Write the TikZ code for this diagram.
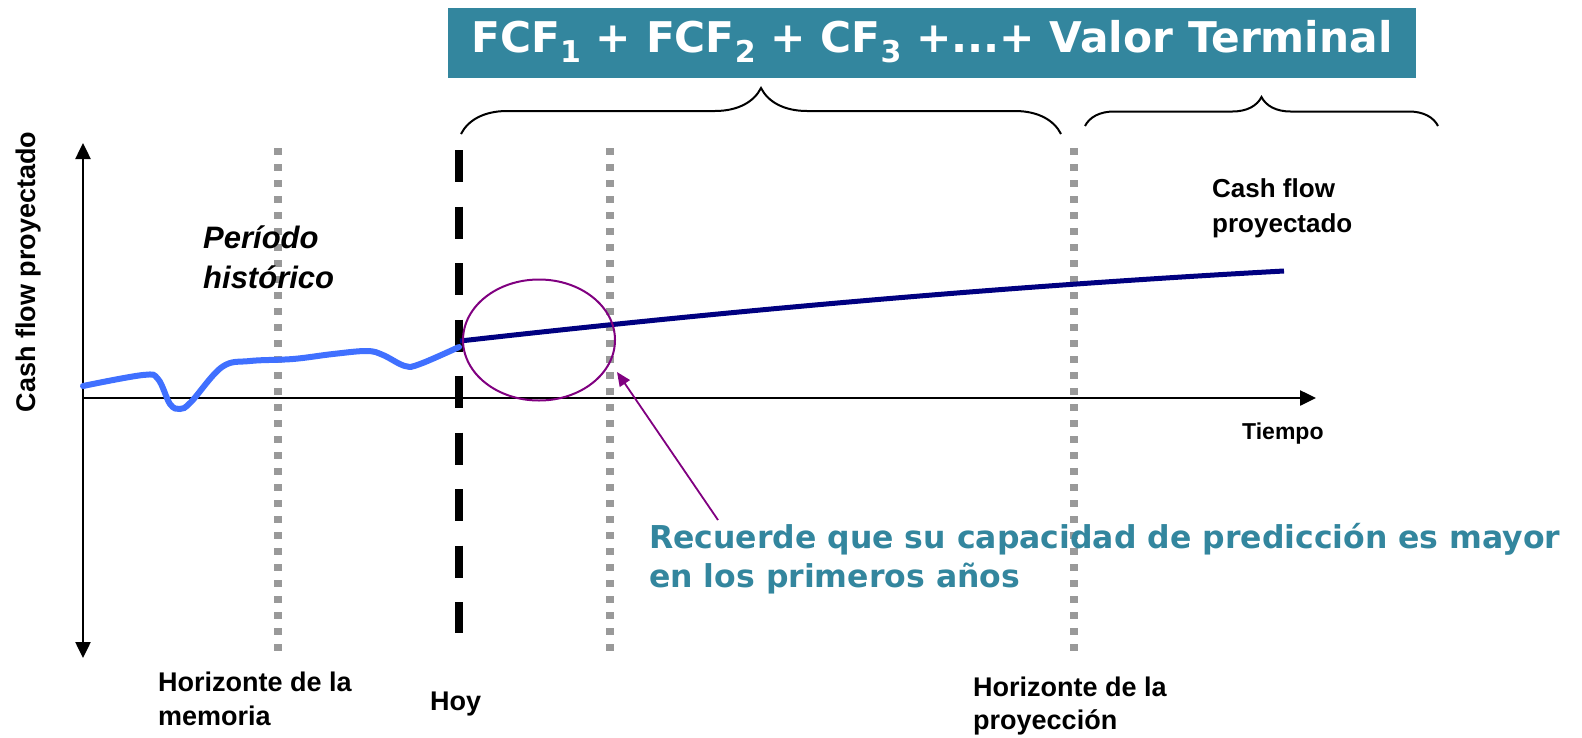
\documentclass[tikz,border=0pt]{standalone}
\usepackage{fontspec}
\setmainfont{Liberation Sans}
\newfontfamily\verdana{DejaVu Sans}
\usetikzlibrary{arrows.meta,decorations.pathreplacing,shapes.geometric}
\definecolor{azulverde}{RGB}{51,134,158}
\definecolor{azulclaro}{RGB}{64,112,255}
\definecolor{azulmarino}{RGB}{0,0,128}
\definecolor{morado}{RGB}{128,0,128}
\definecolor{gris}{RGB}{153,153,153}
\newcommand{\bajo}[1]{\raisebox{-10pt}{\fontsize{30}{30}\selectfont #1}}

\begin{document}
\begin{tikzpicture}[x=1pt,y=-1pt,
  etiqueta/.style={font=\bfseries\fontsize{27}{34}\selectfont, inner sep=0pt, align=left, anchor=base west},
  punteada/.style={gris, line width=8pt, dash pattern=on 7pt off 9pt},
  llave/.style={decorate, line width=2pt},
  eje/.style={line width=2.5pt, -{Triangle[width=15pt,length=16pt]}}]
\useasboundingbox (0,0) rectangle (1582,737);

\node[fill=azulverde, text=white, minimum width=968pt, minimum height=70pt, inner sep=0pt,
    text height=30pt, text depth=12pt,
    font=\verdana\bfseries\fontsize{42.3}{42}\selectfont] (titulo) at (932,43)
    {FCF\bajo{1} + FCF\bajo{2} + CF\bajo{3} +...+ Valor Terminal};

\draw[llave, decoration={brace, amplitude=46pt}] (461,134) -- (1061,134);
\draw[llave, decoration={brace, amplitude=29pt}] (1085,126) -- (1438,126);

\foreach \x in {278,610,1074}
  \draw[punteada] (\x,148) -- (\x,656);
\draw[line width=8pt, dash pattern=on 32pt off 24.5pt] (459,150) -- (459,633);

\coordinate (origen) at (83,398);
\coordinate (arriba) at (83,143);
\coordinate (abajo) at (83,658);
\coordinate (derecha) at (1316,398);
\draw[eje] (origen) -- (arriba);
\draw[eje] (origen) -- (abajo);
\draw[eje] (origen) -- (derecha);

\draw[azulclaro, line width=6pt, line cap=round] plot[smooth, tension=0.6] coordinates
  {(83,386) (143,375) (158,379) (170,404) (180,409) (191,402) (222,367) (250,361)
   (293,359) (333,354) (367,351) (383,355) (405,366) (420,364) (459,347)};
\coordinate (hoy) at (460,341);
\coordinate (fin) at (1284,271);
\draw[azulmarino, line width=5pt] (hoy) .. controls (735,310) and (1009,286) .. (fin);

\node[ellipse, draw=morado, line width=2pt, minimum width=152pt, minimum height=121pt,
    inner sep=0pt] (circulo) at (539,340) {};

\node[etiqueta, font=\bfseries\itshape\fontsize{31}{40}\selectfont] (historico) at (203,288) {Período\\histórico};
\node[etiqueta] (memoria) at (158,725) {Horizonte de la\\memoria};
\node[etiqueta] (hoytxt) at (430,710) {Hoy};
\node[etiqueta, font=\bfseries\fontsize{27}{33}\selectfont] (proyeccion) at (973,729) {Horizonte de la\\proyección};
\node[etiqueta, font=\bfseries\fontsize{26}{35}\selectfont] (cashflow) at (1212,232) {Cash flow\\proyectado};
\node[etiqueta, font=\bfseries\fontsize{23}{23}\selectfont] (tiempo) at (1242,439) {Tiempo};
\node[etiqueta, rotate=90, anchor=base] (ejey) at (35,272) {Cash flow proyectado};

\node[etiqueta, text=azulverde, font=\verdana\bfseries\fontsize{31.5}{39}\selectfont] (nota) at (649,587)
  {Recuerde que su capacidad de predicción es mayor\\en los primeros años};

\coordinate (cola) at (718,520);
\coordinate (punta) at (617,372);
\draw[morado, line width=1.8pt, -{Triangle[width=12pt,length=14pt]}] (cola) -- (punta);
\end{tikzpicture}
\end{document}
